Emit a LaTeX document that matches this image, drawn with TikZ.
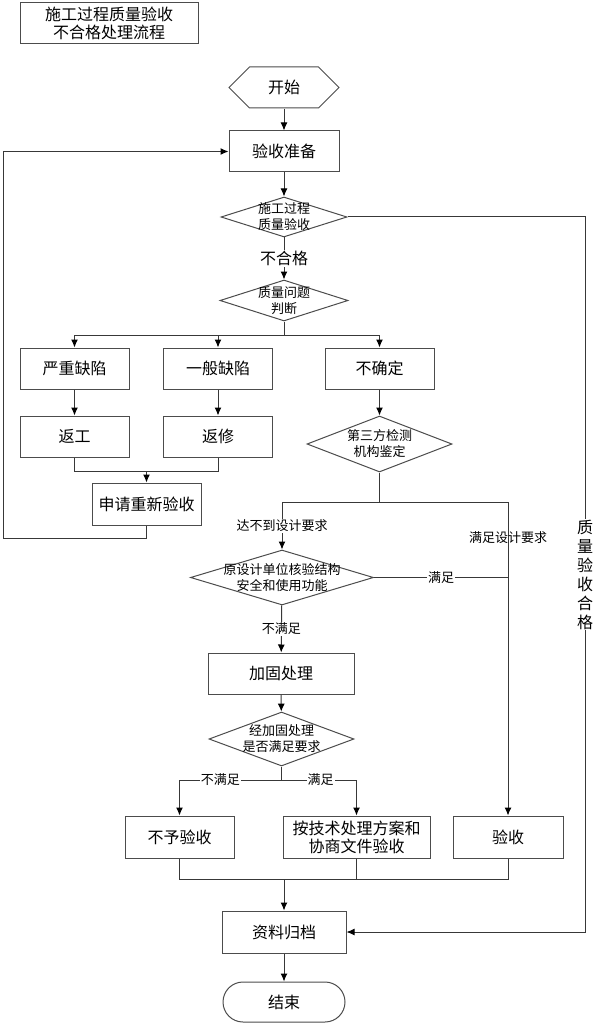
\documentclass[tikz,border=0pt]{standalone}
\usepackage{fontspec}
\setmainfont{Noto Sans CJK SC}
\usepackage{tikz}
\usetikzlibrary{arrows.meta,shapes.geometric,shapes.symbols}
\tikzset{
  procbox/.style={draw=black!70,fill=white,line width=1pt,align=center,inner sep=1pt,
    minimum width=110pt,minimum height=41pt,font=\fontsize{16}{18}\selectfont},
  startbox/.style={procbox,signal,signal to=west and east},
  endbox/.style={procbox,rounded corners=20pt},
  decbox/.style={diamond,draw=black!70,fill=white,line width=1pt,inner sep=0pt},
  dectext/.style={align=center,inner sep=0pt,font=\fontsize{13}{16}\selectfont},
  flowline/.style={draw=black!78,line width=1pt},
  flowarrow/.style={flowline,-{Latex[length=8pt,width=7pt,color=black]}},
  linelabel/.style={fill=white,inner sep=1pt,font=\fontsize{13}{15}\selectfont},
  biglabel/.style={fill=white,inner sep=1pt,align=center,font=\fontsize{16}{19}\selectfont}
}
\begin{document}
\begin{tikzpicture}[x=1pt,y=-1pt]
  \useasboundingbox (0,0) rectangle (602,1024);
  \node[procbox,minimum width=178pt] (title) at (109,23.5)
    {施工过程质量验收\\不合格处理流程};
  \node[startbox] (start) at (284,87.5) {开始};
  \node[procbox] (prep) at (284,151.5) {验收准备};
  \node[decbox,minimum width=126pt,minimum height=40pt,
    label={[dectext]center:施工过程\\质量验收}] (chk) at (284,217) {};
  \node[decbox,minimum width=128pt,minimum height=41pt,
    label={[dectext]center:质量问题\\判断}] (judge) at (284,300.5) {};
  \node[procbox,minimum width=109pt] (serious) at (74.5,368.5) {严重缺陷};
  \node[procbox,minimum width=109pt] (general) at (218,368.5) {一般缺陷};
  \node[procbox,minimum width=109pt] (unsure) at (379.5,368.5) {不确定};
  \node[procbox,minimum width=109pt] (rework) at (74.5,436.5) {返工};
  \node[procbox,minimum width=109pt] (repair) at (218,436.5) {返修};
  \node[procbox,minimum width=109pt,minimum height=42pt] (reapply) at (146.5,504) {申请重新验收};
  \node[decbox,minimum width=145pt,minimum height=56pt,
    label={[dectext]center:第三方检测\\机构鉴定}] (third) at (379.5,444) {};
  \node[decbox,minimum width=183pt,minimum height=55pt,
    label={[dectext]center:原设计单位核验结构\\安全和使用功能}] (design) at (282,577.5) {};
  \node[procbox,minimum width=146pt] (reinforce) at (281,673.5) {加固处理};
  \node[decbox,minimum width=145pt,minimum height=54pt,
    label={[dectext]center:经加固处理\\是否满足要求}] (recheck) at (281.5,739) {};
  \node[procbox,minimum width=109pt,minimum height=42pt] (reject) at (179.5,837) {不予验收};
  \node[procbox,minimum width=147pt,minimum height=42pt] (techok) at (356.5,837)
    {按技术处理方案和\\协商文件验收};
  \node[procbox,minimum width=110pt,minimum height=42pt] (accept) at (508,837) {验收};
  \node[procbox,minimum width=124pt,minimum height=42pt] (archive) at (284,932) {资料归档};
  \node[endbox,minimum width=122pt,minimum height=40pt] (finish) at (284,1002) {结束};

  \coordinate (jb) at (284,335);
  \coordinate (rm) at (146.5,471);
  \coordinate (fbl) at (3,538);
  \coordinate (tb) at (379.5,502);
  \coordinate (rb) at (281.5,780);
  \coordinate (am) at (284,879);
  \coordinate (okc) at (585,217);

  \draw[flowarrow] (start) -- (prep);
  \draw[flowarrow] (prep) -- (chk);
  \draw[flowarrow] (chk) -- (judge)
    node[midway,biglabel] {不合格};
  \draw[flowline] (judge.south) -- (jb);
  \draw[flowarrow] (jb) -| (serious.north);
  \draw[flowarrow] (jb) -| (general.north);
  \draw[flowarrow] (jb) -| (unsure.north);
  \draw[flowarrow] (serious) -- (rework);
  \draw[flowarrow] (general) -- (repair);
  \draw[flowarrow] (unsure) -- (third);
  \draw[flowline] (rework.south) |- (rm);
  \draw[flowline] (repair.south) |- (rm);
  \draw[flowarrow] (rm) -- (reapply);
  \draw[flowarrow] (reapply.south) |- (fbl) |- (prep.west);
  \draw[flowline] (third.south) -- (tb);
  \draw[flowarrow] (tb) -| (design.north)
    node[pos=0.75,linelabel] {达不到设计要求};
  \draw[flowarrow] (tb) -| (accept.north)
    node[pos=0.557,linelabel,fill=none] {满足设计要求};
  \draw[flowline] (design.east) -- (design.east -| accept)
    node[midway,linelabel] {满足};
  \draw[flowarrow] (design) -- (reinforce)
    node[midway,linelabel] {不满足};
  \draw[flowarrow] (reinforce) -- (recheck);
  \draw[flowline] (recheck.south) -- (rb);
  \draw[flowarrow] (rb) -| (reject.north)
    node[pos=0.3,linelabel] {不满足};
  \draw[flowarrow] (rb) -| (techok.north)
    node[pos=0.26,linelabel] {满足};
  \draw[flowline] (reject.south) |- (am);
  \draw[flowline] (techok.south) |- (am);
  \draw[flowline] (accept.south) |- (am);
  \draw[flowarrow] (am) -- (archive);
  \draw[flowarrow] (chk.east) -- (okc) |- (archive.east)
    node[pos=0.25,biglabel] {质\\量\\验\\收\\合\\格};
  \draw[flowarrow] (archive) -- (finish);
\end{tikzpicture}
\end{document}
